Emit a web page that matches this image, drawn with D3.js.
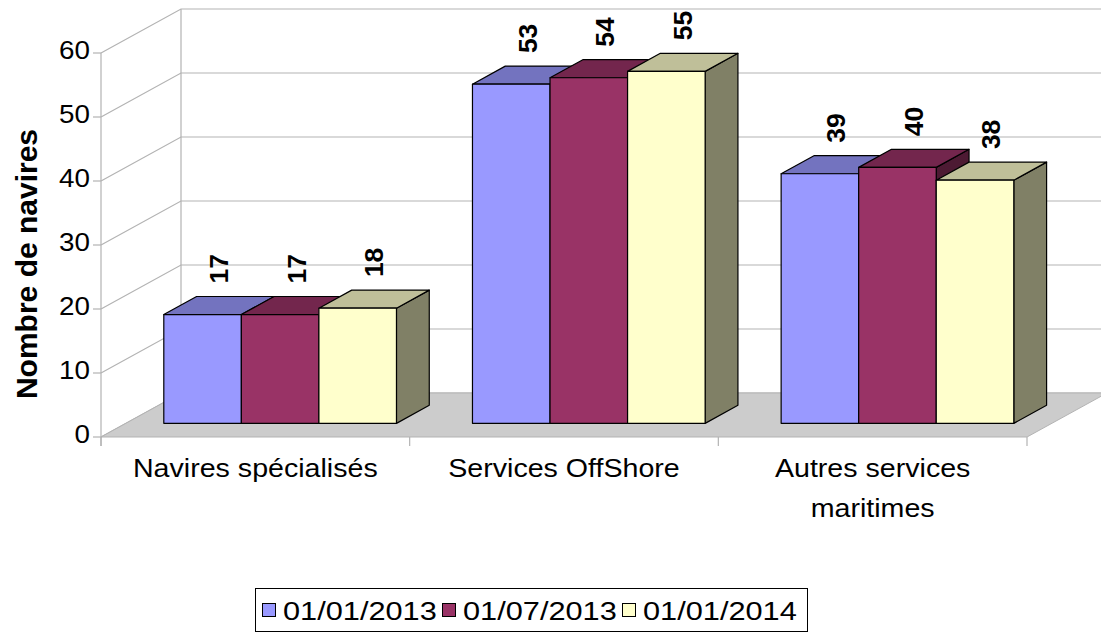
<!DOCTYPE html>
<html><head><meta charset="utf-8">
<script src="https://cdn.jsdelivr.net/npm/d3@7"></script>
<style>body{margin:0;background:#fff}svg{display:block}text{font-family:"Liberation Sans",Arial,sans-serif;fill:#000}</style>
</head><body>
<svg id="c" width="1101" height="637"></svg>
<script>
// ---- data ----
const categories = ["Navires spécialisés", "Services OffShore", "Autres services maritimes"];
const categoryLines = [["Navires spécialisés"], ["Services OffShore"], ["Autres services", "maritimes"]];
const seriesNames = ["01/01/2013", "01/07/2013", "01/01/2014"];
const valuesJan2013 = [17, 53, 39];
const valuesJul2013 = [17, 54, 40];
const valuesJan2014 = [18, 55, 38];
const yTicks = [0, 10, 20, 30, 40, 50, 60];
const yTitle = "Nombre de navires";
const seriesColors = ["#9999ff", "#993366", "#ffffcc"];
const seriesValues = [valuesJan2013, valuesJul2013, valuesJan2014];

// ---- layout ----
const svg = d3.select("#c");
const DX = 80, DY = -44;          // depth vector of the 3D box
const Z0 = 0.31, Z1 = 0.72;       // bar depth range
const x = d3.scaleBand().domain(categories).range([101, 1027]).padding(0);
const xs = d3.scaleBand().domain(seriesNames).range([0, x.bandwidth()]).paddingInner(0).paddingOuter(0.49);
const y = d3.scaleLinear().domain([0, 60]).range([437, 53]);
const P = (px, v, z) => [px + DX * z, y(v) + DY * z];
const poly = pts => "M" + pts.map(p => p.join(",")).join("L") + "Z";
const grid = "#b3b3b3";

const xL = x.range()[0], xR = x.range()[1];

// walls
svg.append("path").attr("d", poly([P(xL,0,0), P(xL,60,0), P(xL,60,1), P(xL,0,1)])).attr("fill", "#fff");
// gridlines
yTicks.forEach(t => {
  const a = P(xL, t, 0), b = P(xL, t, 1), c = P(xR, t, 1);
  svg.append("path").attr("d", `M${a}L${b}L${c}`).attr("fill", "none").attr("stroke", grid).attr("stroke-width", 1.2);
});
// back wall left edge
svg.append("line").attr("x1", P(xL,0,1)[0]).attr("y1", P(xL,0,1)[1]).attr("x2", P(xL,60,1)[0]).attr("y2", P(xL,60,1)[1])
  .attr("stroke", grid).attr("stroke-width", 1.2);
// floor
svg.append("path").attr("d", poly([P(xL,0,0), P(xR,0,0), P(xR,0,1), P(xL,0,1)]))
  .attr("fill", "#cccccc").attr("stroke", "#b3b3b3").attr("stroke-width", 1);
// y axis line
svg.append("line").attr("x1", xL).attr("x2", xL).attr("y1", y(60)).attr("y2", y(0) + 9).attr("stroke", grid).attr("stroke-width", 1.2);
// y ticks
yTicks.forEach(t => {
  svg.append("line").attr("x1", xL - 8).attr("x2", xL).attr("y1", y(t)).attr("y2", y(t)).attr("stroke", grid).attr("stroke-width", 1.2);
  svg.append("text").attr("transform", `translate(90,${y(t) - 3}) scale(1.07,1)`)
    .attr("text-anchor", "end").attr("dominant-baseline", "central").attr("font-size", 26).text(t);
});
// category ticks
const catTicks = categories.map(c => x(c)).concat([xR]);
catTicks.forEach(cx => {
  svg.append("line").attr("x1", cx).attr("x2", cx).attr("y1", y(0)).attr("y2", y(0) + 9).attr("stroke", grid).attr("stroke-width", 1.2);
});

// bars
const shade = (c, k) => { const r = d3.rgb(c); return d3.rgb(r.r * k, r.g * k, r.b * k).formatHex(); };
categories.forEach((cat, i) => {
  seriesNames.forEach((s, j) => {
    const v = seriesValues[j][i];
    const bx = x(cat) + xs(s), w = xs.bandwidth();
    const g = svg.append("g").attr("stroke", "#000").attr("stroke-width", 1.2).attr("stroke-linejoin", "round");
    g.append("path").attr("d", poly([P(bx + w, 0, Z0), P(bx + w, v, Z0), P(bx + w, v, Z1), P(bx + w, 0, Z1)])).attr("fill", shade(seriesColors[j], 0.5));
    g.append("path").attr("d", poly([P(bx, v, Z0), P(bx + w, v, Z0), P(bx + w, v, Z1), P(bx, v, Z1)])).attr("fill", shade(seriesColors[j], 0.75));
    g.append("path").attr("d", poly([P(bx, 0, Z0), P(bx + w, 0, Z0), P(bx + w, v, Z0), P(bx, v, Z0)])).attr("fill", seriesColors[j]);
  });
});
// value labels
categories.forEach((cat, i) => {
  seriesNames.forEach((s, j) => {
    const v = seriesValues[j][i];
    const bx = x(cat) + xs(s), w = xs.bandwidth();
    const lp = P(bx + w / 2, v, (Z0 + Z1) / 2);
    const top = P(bx, v, Z1)[1];
    svg.append("text").attr("transform", `translate(${lp[0]},${top - 13}) rotate(-90)`)
      .attr("text-anchor", "start").attr("dominant-baseline", "central")
      .attr("font-size", 26.5).attr("font-weight", "bold").text(v);
  });
});
// category labels
categories.forEach((cat, i) => {
  const cx = x(cat) + x.bandwidth() / 2;
  categoryLines[i].forEach((ln, k) => {
    svg.append("text").attr("transform", `translate(${cx},${477 + k * 40}) scale(1.10,1)`)
      .attr("text-anchor", "middle").attr("font-size", 26).text(ln);
  });
});
// y title
svg.append("text").attr("transform", "translate(26,264) rotate(-90)")
  .attr("text-anchor", "middle").attr("dominant-baseline", "central")
  .attr("font-size", 30).attr("font-weight", "bold").text(yTitle);

// legend
const lg = svg.append("g");
lg.append("rect").attr("x", 255.5).attr("y", 588.5).attr("width", 552).attr("height", 43).attr("fill", "#fff").attr("stroke", "#000").attr("stroke-width", 1);
const itemW = 180;
seriesNames.forEach((s, j) => {
  const ix = 262 + j * itemW;
  lg.append("rect").attr("x", ix + 0.5).attr("y", 603.5).attr("width", 13).attr("height", 13)
    .attr("fill", seriesColors[j]).attr("stroke", "#000").attr("stroke-width", 1);
  lg.append("text").attr("transform", `translate(${ix + 21},${620}) scale(1.16,1)`)
    .attr("font-size", 26.5).text(s);
});
</script>
</body></html>
